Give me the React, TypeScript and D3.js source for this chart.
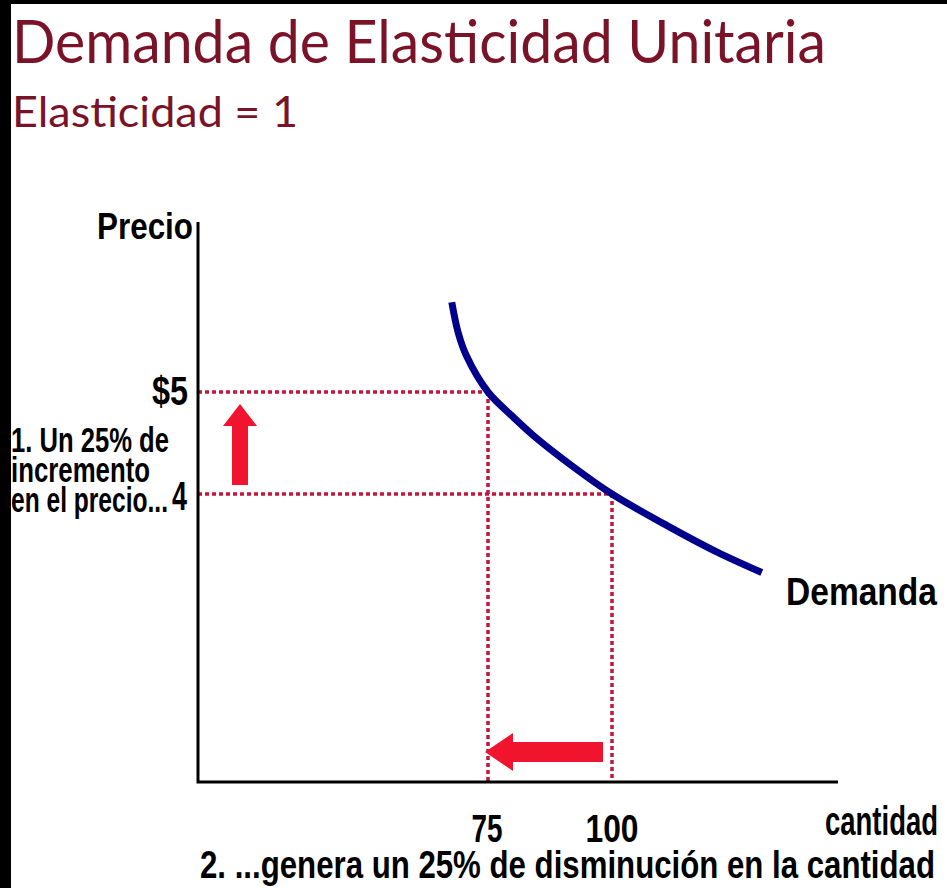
import React from "react";
import * as d3 from "d3";

// ---- data ----
const priceTicks = [5, 4];
const priceLabels = ["$5", "4"];
const quantityTicks = [75, 100];
const quantityLabels = ["75", "100"];
// demand curve points: [cantidad, precio]
const demandQ = [67.7, 69.0, 70.7, 75, 79.4, 84.1, 92.1, 100, 111.1, 121.2, 130.2];
const demandP = [5.88, 5.58, 5.35, 5.0, 4.785, 4.575, 4.27, 4.0, 3.69, 3.43, 3.23];
const titleText = "Demanda de Elasticidad Unitaria";
const subtitleText = "Elasticidad = 1";
const noteLines = ["1. Un 25% de", "incremento", "en el precio..."];
const bottomNote = "2. ...genera un 25% de disminución en la cantidad";

const W = 947;
const H = 888;
const axisX = 198;
const axisY = 782;
const axisTop = 222;
const axisRight = 838;

const TITLE_COLOR = "#7a1328";
const DOT_COLOR = "#c4163c";
const ARROW_COLOR = "#f0142e";
const CURVE_COLOR = "#00008c";

const x = d3.scaleLinear().domain([75, 100]).range([488, 612]);
const y = d3.scaleLinear().domain([4, 5]).range([494, 392]);

const FONT = "'Liberation Sans', Arial, sans-serif";

function Bold({ x, y, size, len, anchor = "start", children }: any) {
  return (
    <text
      x={x}
      y={y}
      fontFamily={FONT}
      fontWeight="bold"
      fontSize={size}
      textAnchor={anchor}
      textLength={len}
      lengthAdjust="spacingAndGlyphs"
      fill="#000"
    >
      {children}
    </text>
  );
}

export default function App() {
  const pts: [number, number][] = demandQ.map((q, i) => [q, demandP[i]]);
  const line = d3
    .line<[number, number]>()
    .x((d) => x(d[0]))
    .y((d) => y(d[1]))
    .curve(d3.curveCatmullRom.alpha(0.5));

  const p5 = { px: x(75), py: y(5) };
  const p4 = { px: x(100), py: y(4) };

  const ua = { cx: axisX + 42, top: y(5) + 12, headBase: y(5) + 34, bottom: y(4) - 9 };
  const upArrow = [
    [ua.cx, ua.top],
    [ua.cx + 17, ua.headBase],
    [ua.cx + 8, ua.headBase],
    [ua.cx + 8, ua.bottom],
    [ua.cx - 8, ua.bottom],
    [ua.cx - 8, ua.headBase],
    [ua.cx - 17, ua.headBase],
  ];
  const la = { cy: axisY - 30, tip: x(75) - 3, headBase: x(75) + 25, right: x(100) - 9 };
  const leftArrow = [
    [la.tip, la.cy],
    [la.headBase, la.cy - 19],
    [la.headBase, la.cy - 10],
    [la.right, la.cy - 10],
    [la.right, la.cy + 10],
    [la.headBase, la.cy + 10],
    [la.headBase, la.cy + 19],
  ];
  const poly = (p: number[][]) => p.map((d) => d.join(",")).join(" ");

  return (
    <svg
      width={W}
      height={H}
      style={{ position: "absolute", left: 0, top: 0, display: "block" }}
    >
      <rect x={0} y={0} width={W} height={H} fill="#fff" />
      <rect x={0} y={0} width={W} height={4} fill="#000" />
      <rect x={0} y={0} width={11} height={H} fill="#000" />

      <text
        x={12}
        y={63}
        fontFamily="Lato, 'Open Sans', sans-serif"
        fontSize={60}
        fill={TITLE_COLOR}
        textLength={814}
        lengthAdjust="spacingAndGlyphs"
      >
        {titleText}
      </text>
      <text
        x={12}
        y={127}
        fontFamily="Lato, 'Open Sans', sans-serif"
        fontSize={42}
        fill={TITLE_COLOR}
        textLength={286}
        lengthAdjust="spacingAndGlyphs"
      >
        {subtitleText}
      </text>

      <g stroke={DOT_COLOR} strokeWidth={3.5} strokeDasharray="4 3" fill="none">
        <line x1={axisX} y1={p5.py} x2={p5.px} y2={p5.py} />
        <line x1={p5.px} y1={p5.py} x2={p5.px} y2={axisY} />
        <line x1={axisX} y1={p4.py} x2={p4.px} y2={p4.py} />
        <line x1={p4.px} y1={p4.py} x2={p4.px} y2={axisY} />
      </g>

      <path
        d={`M${axisX},${axisTop} L${axisX},${axisY} L${axisRight},${axisY}`}
        stroke="#000"
        strokeWidth={3}
        fill="none"
      />

      <path d={line(pts) || ""} stroke={CURVE_COLOR} strokeWidth={7} fill="none" />

      <polygon points={poly(upArrow)} fill={ARROW_COLOR} />
      <polygon points={poly(leftArrow)} fill={ARROW_COLOR} />

      <Bold x={193} y={239} size={36} len={96} anchor="end">Precio</Bold>
      <Bold x={188} y={y(priceTicks[0]) + 13} size={40} len={36} anchor="end">{priceLabels[0]}</Bold>
      <Bold x={187} y={y(priceTicks[1]) + 16} size={40} len={15} anchor="end">{priceLabels[1]}</Bold>
      {noteLines.map((t, i) => (
        <Bold key={t} x={11} y={452 + i * 30} size={35} len={[158, 139, 157][i]}>{t}</Bold>
      ))}
      <Bold x={786} y={605} size={38} len={151}>Demanda</Bold>
      <Bold x={825} y={835} size={40} len={113}>cantidad</Bold>
      {quantityTicks.map((q, i) => (
        <Bold key={q} x={x(q) + (i === 0 ? -1 : 0)} y={842} size={38} len={[31, 53][i]} anchor="middle">
          {quantityLabels[i]}
        </Bold>
      ))}
      <Bold x={200} y={878} size={39} len={735}>{bottomNote}</Bold>
    </svg>
  );
}
